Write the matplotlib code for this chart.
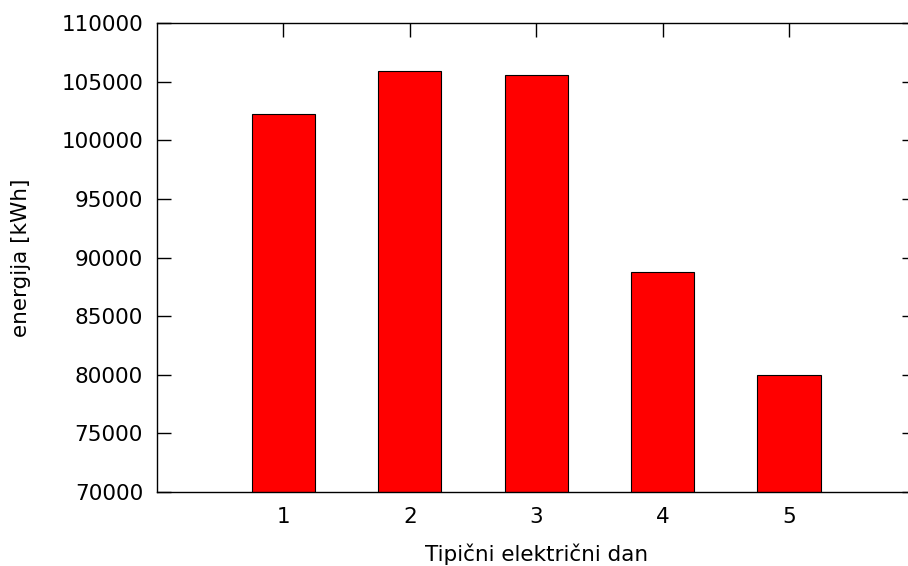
import matplotlib.pyplot as plt

days = [1, 2, 3, 4, 5]
energy = [102200, 105900, 105550, 88750, 80000]

fig = plt.figure(figsize=(9.08, 5.66), dpi=100)
# plot area runs past the right edge of the picture, like the gnuplot original
ax = fig.add_axes([157/908, 1-492/566, (915.5-157)/908, (492-23)/566])

ax.bar(days, energy, width=0.5, color='red', edgecolor='black', linewidth=0.8, zorder=2)

ax.set_xlim(0, 6)
ax.set_ylim(70000, 110000)
ax.set_xticks(days)
ax.set_yticks(range(70000, 110001, 5000))
ax.tick_params(axis='y', direction='in', length=10, width=1, right=True, labelsize=15.5, pad=10)
ax.tick_params(axis='x', direction='in', length=0, labelsize=15.5, pad=11, top=True)
for t in ax.xaxis.get_major_ticks():
    t.tick2line.set_markersize(10)
    t.tick2line.set_markeredgewidth(1)

for s in ax.spines.values():
    s.set_linewidth(1)

ax.set_xlabel('Tipični električni dan', fontsize=15.5, labelpad=12)
ax.set_ylabel('energija [kWh]', fontsize=15.5, labelpad=22)

fig.savefig('out.png', dpi=100)
